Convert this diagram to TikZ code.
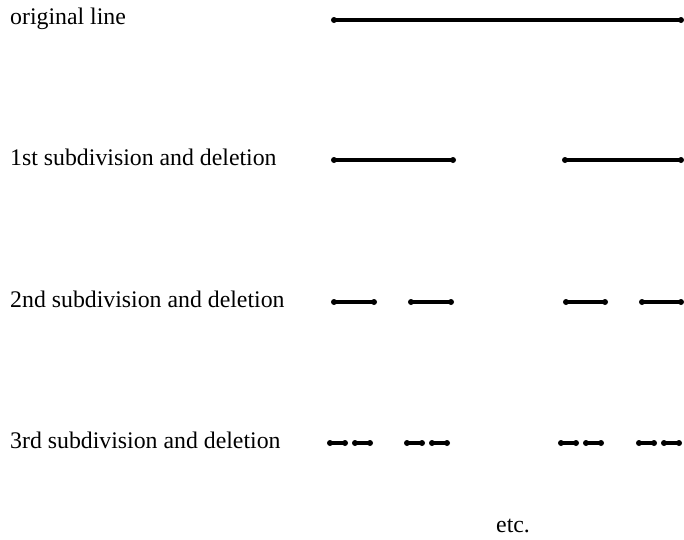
\documentclass[tikz,border=0pt]{standalone}
\usepackage{fontspec}
\setmainfont{Liberation Serif}
\tikzset{
  lbl/.style={anchor=mid west, inner sep=0pt, font=\fontsize{23.8}{28}\selectfont},
  seg/.style={line width=3.2pt, line cap=round},
  enddot/.style={fill, radius=3pt}
}
\newcommand\cseg[3]{\draw[seg] (#1,#3) -- (#2,#3); \fill[enddot] (#1,#3) circle; \fill[enddot] (#2,#3) circle;}
\begin{document}
\begin{tikzpicture}[x=1pt,y=-1pt]
\useasboundingbox (0,0) rectangle (684,539);
\node[lbl] (l0) at (10,22) {original line};
\node[lbl] (l1) at (10,163) {1st subdivision and deletion};
\node[lbl] (l2) at (10,305) {2nd subdivision and deletion};
\node[lbl] (l3) at (10,446) {3rd subdivision and deletion};
\node[lbl] (etc) at (496,530) {etc.};
% original
\cseg{334}{681}{20}
% 1st
\cseg{334}{453}{160}
\cseg{565}{681}{160}
% 2nd
\cseg{334}{374}{302}
\cseg{411}{451}{302}
\cseg{566}{605}{302}
\cseg{642}{681}{302}
% 3rd
\cseg{330}{345}{443}
\cseg{355}{370}{443}
\cseg{407}{422}{443}
\cseg{432}{447}{443}
\cseg{561}{576}{443}
\cseg{586}{601}{443}
\cseg{639}{654}{443}
\cseg{664}{679}{443}
\end{tikzpicture}
\end{document}
